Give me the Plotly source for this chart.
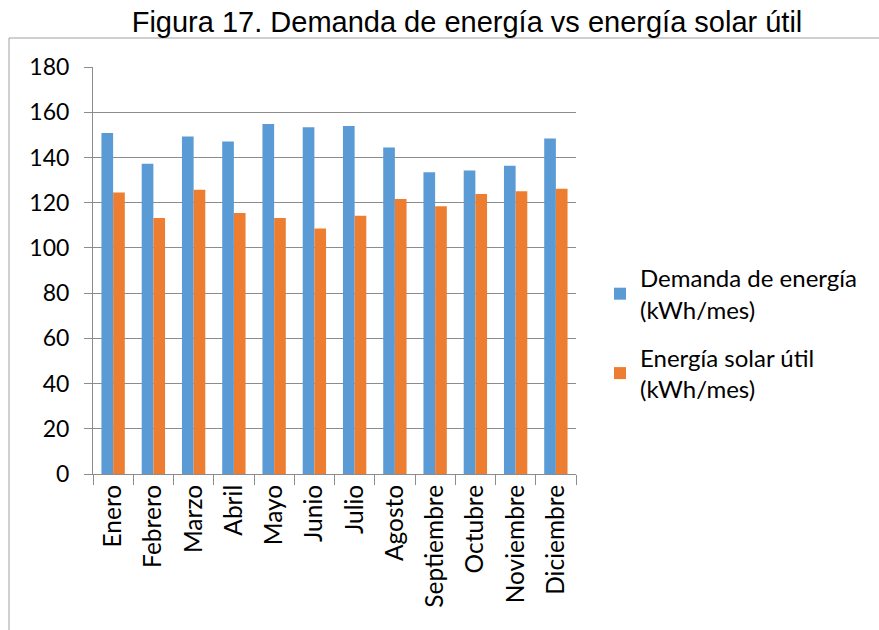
import plotly.graph_objects as go

meses = ["Enero", "Febrero", "Marzo", "Abril", "Mayo", "Junio", "Julio",
         "Agosto", "Septiembre", "Octubre", "Noviembre", "Diciembre"]
demanda = [150.8, 137.2, 149.3, 147.0, 154.8, 153.4, 153.9, 144.4, 133.5, 134.2, 136.3, 148.4]
solar = [124.5, 113.2, 125.7, 115.4, 113.2, 108.6, 114.2, 121.6, 118.4, 123.8, 125.1, 126.1]

serie1 = "Demanda de energía<br>(kWh/mes)"
serie2 = "Energía solar útil<br>(kWh/mes)"

FONT = "Lato, 'Open Sans', sans-serif"
GRID = "#8c8c8c"

fig = go.Figure()
fig.add_trace(go.Bar(x=meses, y=demanda, name=serie1, legendgroup="a",
                     marker=dict(color="#5B9BD5", line=dict(width=0))))
fig.add_trace(go.Bar(x=meses, y=solar, name=serie2, legendgroup="b",
                     marker=dict(color="#ED7D31", line=dict(width=0))))

L, R, T, B = 93, 303, 67, 156
W, H = 879, 630
pw = W - L - R
ph = H - T - B

def px_to_paper_x(px):
    return (px - L) / pw

def px_to_paper_y(py):
    return (H - B - py) / ph

fig.update_layout(
    width=W, height=H,
    margin=dict(l=L, r=R, t=T, b=B, pad=0),
    paper_bgcolor="white", plot_bgcolor="white",
    barmode="group", bargap=0.42, bargroupgap=0.0,
    title=dict(text="Figura 17. Demanda de energía vs energía solar útil",
               font=dict(family="Liberation Sans, Arial, sans-serif", size=29, color="black"),
               x=467 / W, xref="container", xanchor="center",
               y=1 - 22 / H, yref="container", yanchor="middle"),
    legend=dict(x=px_to_paper_x(600), xanchor="left",
                y=px_to_paper_y(256), yanchor="top",
                font=dict(family=FONT, size=24, color="black"),
                traceorder="grouped", tracegroupgap=14,
                bgcolor="rgba(0,0,0,0)", borderwidth=0),
    xaxis=dict(showline=True, linecolor=GRID, linewidth=1,
               ticks="outside", tickson="boundaries", ticklen=10, tickcolor=GRID,
               tickangle=-90, showgrid=False,
               tickfont=dict(family=FONT, size=24.5, color="black")),
    yaxis=dict(range=[0, 180], dtick=20, showline=True, linecolor=GRID, linewidth=1,
               ticks="outside", ticklen=8, tickcolor=GRID,
               showgrid=True, gridcolor=GRID, gridwidth=1,
               zeroline=False, ticklabelstandoff=10,
               tickfont=dict(family=FONT, size=23, color="black")),
    shapes=[
        dict(type="line", xref="paper", yref="paper",
             x0=px_to_paper_x(9), x1=px_to_paper_x(9),
             y0=px_to_paper_y(38), y1=px_to_paper_y(640),
             line=dict(color="#a0a0a0", width=1)),
        dict(type="line", xref="paper", yref="paper",
             x0=px_to_paper_x(9), x1=px_to_paper_x(890),
             y0=px_to_paper_y(38), y1=px_to_paper_y(38),
             line=dict(color="#a0a0a0", width=1)),
    ],
)

fig.write_html("out.html", config={"displayModeBar": False},
               post_script="document.body.style.margin='0';")
